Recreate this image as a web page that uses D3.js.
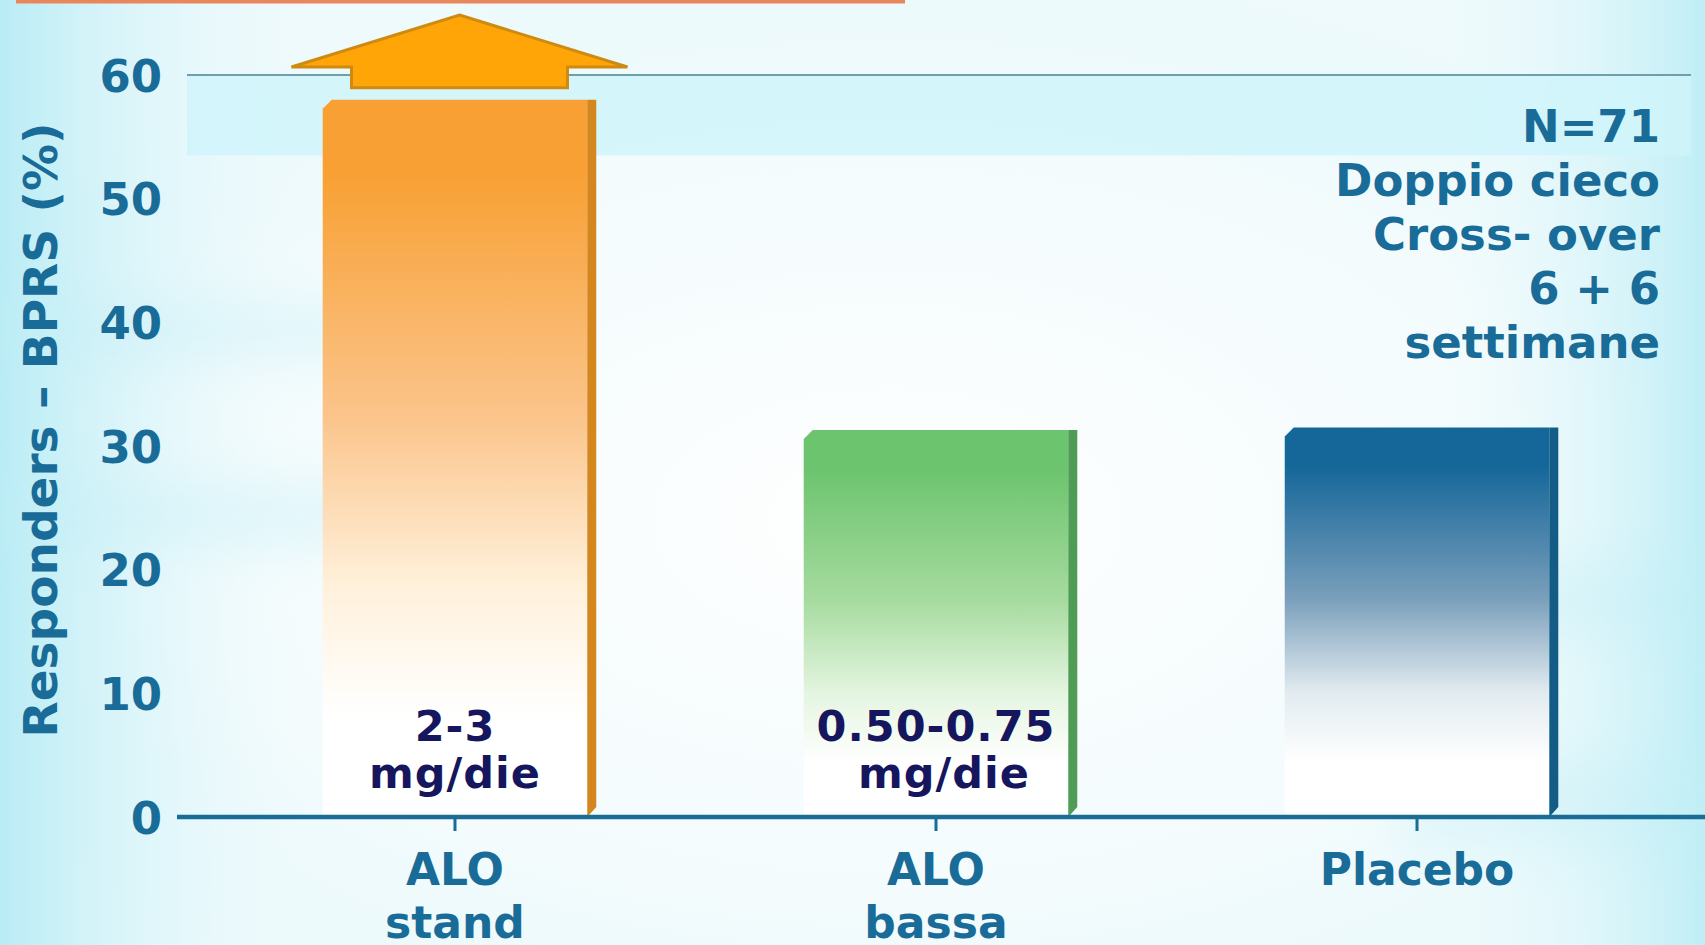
<!DOCTYPE html>
<html>
<head>
<meta charset="utf-8">
<script src="https://cdn.jsdelivr.net/npm/d3@7"></script>
<style>
  html, body { margin: 0; padding: 0; overflow: hidden; background: #f4fcfd; }
  svg { display: block; }
  text { font-family: "DejaVu Sans", Verdana, sans-serif; font-weight: bold; }
</style>
</head>
<body>
<svg id="chart" width="1705" height="945"></svg>
<script>
// Responders (BPRS) by treatment arm
const categories = ["ALO stand", "ALO bassa", "Placebo"];
const categoryLines = [["ALO", "stand"], ["ALO", "bassa"], ["Placebo"]];
const responders = [58, 31.3, 31.5];
const doseLines = [["2-3", "mg/die"], ["0.50-0.75", " mg/die"], []];
const yTickValues = [0, 10, 20, 30, 40, 50, 60];
const studyNotes = ["N=71", "Doppio cieco", "Cross- over", "6 + 6", "settimane"];
const yAxisTitle = "Responders \u2013 BPRS (%)";

// bar palettes: [top, middle, light, side]
const palettes = [
  ["#F8A033", "#FBC48A", "#FFF1DC", "#D4861F"],
  ["#6CC46E", "#A6DB9F", "#E4F5E0", "#4E9C55"],
  ["#15679A", "#7A9FBB", "#E2EBF0", "#135C86"]
];

const W = 1705, H = 945;
const svg = d3.select("#chart");
const defs = svg.append("defs");

// ---- background ----
const bgL = defs.append("linearGradient").attr("id", "bgLeft").attr("x1", 0).attr("x2", 1).attr("y1", 0).attr("y2", 0);
bgL.append("stop").attr("offset", 0).attr("stop-color", "#b9ecf5").attr("stop-opacity", 1);
bgL.append("stop").attr("offset", 1).attr("stop-color", "#e9f9fc").attr("stop-opacity", 0);
const bgR = defs.append("linearGradient").attr("id", "bgRight").attr("x1", 1).attr("x2", 0).attr("y1", 0).attr("y2", 0);
bgR.append("stop").attr("offset", 0).attr("stop-color", "#bfeef6").attr("stop-opacity", 1);
bgR.append("stop").attr("offset", 1).attr("stop-color", "#e9f9fc").attr("stop-opacity", 0);
const bgC = defs.append("radialGradient").attr("id", "bgCenter").attr("cx", "52%").attr("cy", "55%").attr("r", "60%");
bgC.append("stop").attr("offset", 0).attr("stop-color", "#ffffff").attr("stop-opacity", 1);
bgC.append("stop").attr("offset", 0.7).attr("stop-color", "#f6fcfd").attr("stop-opacity", 0.6);
bgC.append("stop").attr("offset", 1).attr("stop-color", "#e2f7fb").attr("stop-opacity", 0);
const blur = defs.append("filter").attr("id", "soft").attr("x", "-20%").attr("y", "-50%").attr("width", "140%").attr("height", "200%");
blur.append("feGaussianBlur").attr("stdDeviation", 22);

svg.append("rect").attr("width", W).attr("height", H).attr("fill", "#eefafc");
svg.append("rect").attr("width", W).attr("height", H).attr("fill", "url(#bgCenter)");
svg.append("rect").attr("x", 0).attr("y", 0).attr("width", 300).attr("height", H).attr("fill", "url(#bgLeft)");
svg.append("rect").attr("x", W - 260).attr("y", 0).attr("width", 260).attr("height", H).attr("fill", "url(#bgRight)");
// soft horizontal streaks
const streaks = svg.append("g").attr("filter", "url(#soft)").attr("opacity", 0.35);
[[0, 300, 420, 60], [0, 480, 360, 70], [1350, 560, 355, 80], [1400, 760, 305, 90]].forEach(s => {
  streaks.append("rect").attr("x", s[0]).attr("y", s[1]).attr("width", s[2]).attr("height", s[3]).attr("fill", "#c3eef6");
});

// title underline at the top
svg.append("line").attr("x1", 16).attr("x2", 905).attr("y1", 1.5).attr("y2", 1.5)
  .attr("stroke", "#E8875C").attr("stroke-width", 4);

// ---- scales ----
const y = d3.scaleLinear().domain([0, 60]).range([817, 75]);
const x = d3.scaleBand().domain(categories).range([182, 1690]).paddingInner(0.45).paddingOuter(0.2925);
const side = 9;

// highlight band behind the top of the plot
svg.append("rect").attr("x", 187).attr("y", y(60)).attr("width", 1691 - 187).attr("height", y(53.5) - y(60))
  .attr("fill", "#cff4fa").attr("opacity", 0.85);

// top gridline
svg.append("line").attr("x1", 187).attr("x2", 1691).attr("y1", y(60)).attr("y2", y(60))
  .attr("stroke", "#6f9fab").attr("stroke-width", 2);

// ---- bar gradients ----
categories.forEach((c, i) => {
  const p = palettes[i];
  const g = defs.append("linearGradient").attr("id", "barGrad" + i).attr("x1", 0).attr("x2", 0).attr("y1", 0).attr("y2", 1);
  g.append("stop").attr("offset", 0).attr("stop-color", p[0]);
  g.append("stop").attr("offset", 0.1).attr("stop-color", p[0]);
  g.append("stop").attr("offset", 0.44).attr("stop-color", p[1]);
  g.append("stop").attr("offset", 0.68).attr("stop-color", p[2]);
  g.append("stop").attr("offset", 0.86).attr("stop-color", "#ffffff");
  g.append("stop").attr("offset", 1).attr("stop-color", "#ffffff");
});

// ---- bars ----
const bars = svg.append("g").selectAll("g").data(categories).join("g");
bars.append("path")
  .attr("d", (c, i) => {
    const L = x(c), R = x(c) + x.bandwidth(), T = y(responders[i]), B = y(0);
    return `M${L},${T + 9}L${L + 9},${T}L${R},${T}L${R},${B}L${L},${B}Z`;
  })
  .attr("fill", (c, i) => `url(#barGrad${i})`);
bars.append("path")
  .attr("d", (c, i) => {
    const R = x(c) + x.bandwidth(), T = y(responders[i]), B = y(0);
    return `M${R},${T}L${R + side},${T}L${R + side},${B - 10}L${R},${B}Z`;
  })
  .attr("fill", (c, i) => palettes[i][3]);

// upward arrow above the first bar
const ax = x(categories[0]) + (x.bandwidth() + side) / 2;
const headBase = y(60) - 8;
svg.append("path")
  .attr("d", `M${ax},${headBase - 52}L${ax + 168},${headBase}L${ax + 108},${headBase}L${ax + 108},${y(responders[0]) - 12}` +
             `L${ax - 108},${y(responders[0]) - 12}L${ax - 108},${headBase}L${ax - 168},${headBase}Z`)
  .attr("fill", "#FFA507").attr("stroke", "#CF8A12").attr("stroke-width", 3).attr("stroke-linejoin", "miter");

// ---- axes ----
const axisColor = "#196C98";
const xAxis = svg.append("g").attr("transform", `translate(0,${y(0)})`)
  .call(d3.axisBottom(x).tickSize(14).tickSizeOuter(0).tickFormat(""));
xAxis.select(".domain").remove();
xAxis.selectAll(".tick line").attr("stroke", axisColor).attr("stroke-width", 3);
svg.append("line").attr("x1", 177).attr("x2", W).attr("y1", y(0)).attr("y2", y(0))
  .attr("stroke", axisColor).attr("stroke-width", 4.5);

const yAxis = svg.append("g").attr("transform", "translate(177,0)")
  .call(d3.axisLeft(y).tickValues(yTickValues).tickSize(0).tickPadding(15));
yAxis.select(".domain").remove();
yAxis.selectAll(".tick text")
  .attr("fill", axisColor).attr("font-size", 45).attr("font-family", "DejaVu Sans").attr("font-weight", "bold")
  .attr("dy", "0.36em");

// category labels
const catLabels = svg.append("g").selectAll("text").data(categories).join("text")
  .attr("x", c => x(c) + x.bandwidth() / 2)
  .attr("y", y(0) + 68)
  .attr("text-anchor", "middle").attr("fill", axisColor).attr("font-size", 44);
catLabels.each(function (c, i) {
  d3.select(this).selectAll("tspan").data(categoryLines[i]).join("tspan")
    .attr("x", x(c) + x.bandwidth() / 2)
    .attr("dy", (d, k) => k === 0 ? 0 : 53)
    .text(d => d);
});

// dose labels inside the bars
const doseLabels = svg.append("g").selectAll("text").data(categories).join("text")
  .attr("x", c => x(c) + x.bandwidth() / 2)
  .attr("y", y(0) - 76)
  .attr("text-anchor", "middle").attr("fill", "#16165E").attr("font-size", 43)
  .attr("letter-spacing", 1)
  .style("white-space", "pre");
doseLabels.each(function (c, i) {
  d3.select(this).selectAll("tspan").data(doseLines[i]).join("tspan")
    .attr("x", x(c) + x.bandwidth() / 2)
    .attr("dy", (d, k) => k === 0 ? 0 : 47)
    .text(d => d);
});

// y axis title
svg.append("text")
  .attr("transform", `translate(57,${(y(0) + y(60)) / 2 - 16}) rotate(-90)`)
  .attr("text-anchor", "middle").attr("fill", axisColor).attr("font-size", 47)
  .text(yAxisTitle);

// study notes
svg.append("g").selectAll("text").data(studyNotes).join("text")
  .attr("x", 1660).attr("y", (d, i) => 142 + i * 54)
  .attr("text-anchor", "end").attr("fill", axisColor).attr("font-size", 45)
  .text(d => d);
</script>
</body>
</html>
